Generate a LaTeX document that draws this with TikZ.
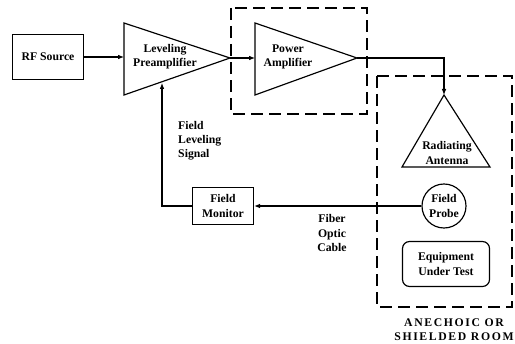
\documentclass[tikz,border=0pt]{standalone}
\usepackage{fontspec}
\setmainfont{Liberation Serif}
\usetikzlibrary{arrows.meta,positioning,shapes.geometric,calc}

\begin{document}
\begin{tikzpicture}[x=0.03cm,y=-0.03cm,
font=\bfseries\fontsize{10}{12}\selectfont,
block/.style={draw,line width=1pt,align=center,inner sep=1pt},
amp/.style={draw,line width=1pt,line join=miter},
room/.style={draw,line width=1.3pt,dash pattern=on 3.6mm off 1.8mm},
lbl/.style={align=left,inner sep=0pt},
arr/.style={-{Latex[length=1.8mm,width=1.4mm]},line width=0.9pt}]
\useasboundingbox (0,0) rectangle (515,343);
% enclosures
\draw[room] (231,8) rectangle (367,114);
\draw[room] (377,76) rectangle (512,307);
% amplifiers and antenna
\draw[amp] (124,23) -- (124,95) -- (230,58) -- cycle;
\draw[amp] (255,23) -- (255,95) -- (357,58) -- cycle;
\draw[amp] (444,95) -- (490,167) -- (402,167) -- cycle;
\coordinate (preIn) at (124,57);
\coordinate (preOut) at (230,58);
\coordinate (preFb) at (162,83);
\coordinate (paIn) at (255,58);
\coordinate (paOut) at (357,58);
\coordinate (antTop) at (444,95);
\node[align=center] (preTxt) at (165,57) {Leveling\\Preamplifier};
\node[align=center] (paTxt) at (288,57) {Power\\Amplifier};
\node[align=center] (antTxt) at (447,153) {Radiating\\Antenna};
% blocks
\node[block,minimum width=2.13cm,minimum height=1.35cm] (src) at (48,57) {RF Source};
\node[block,minimum width=1.83cm,minimum height=1.11cm] (mon) at (223,206) {Field\\Monitor};
\node[block,circle,minimum size=1.32cm,inner sep=0pt] (probe) at (444,206) {Field\\Probe};
\node[block,rounded corners=6pt,minimum width=2.61cm,minimum height=1.35cm] (eut) at (446,264) {Equipment\\Under Test};
% labels
\node[lbl,anchor=west] (fls) at (178,141) {Field\\Leveling\\Signal};
\node[align=center,inner sep=0pt] (foc) at (332,233) {Fiber\\Optic\\Cable};
\node[align=center,inner sep=0pt] (roomTxt) at (454,330) {\addfontfeature{LetterSpace=14}ANECHOIC OR\\\addfontfeature{LetterSpace=14}SHIELDED ROOM};
% connections
\draw[arr] (src.east) -- (preIn);
\draw[arr] (preOut) -- (paIn);
\draw[arr] (paOut) -| (antTop);
\draw[arr] (probe.west) -- (mon.east);
\draw[arr] (mon.west) -| (preFb);
\end{tikzpicture}
\end{document}
